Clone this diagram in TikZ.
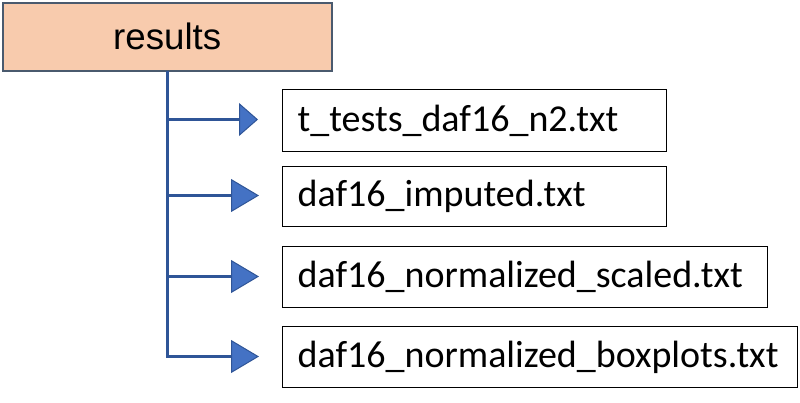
\documentclass[tikz,border=0pt]{standalone}
\usepackage{fontspec}
\setmainfont{Carlito}
\newfontfamily\arialfont{Liberation Sans}
\usetikzlibrary{arrows.meta}
\definecolor{peach}{HTML}{F8CBAD}
\definecolor{slateborder}{HTML}{4A5A6E}
\definecolor{linkblue}{HTML}{2F5597}
\definecolor{tipblue}{HTML}{4472C4}
\begin{document}
\begin{tikzpicture}[x=1pt,y=-1pt,
  rootbox/.style={draw=slateborder, line width=1.5pt, fill=peach, anchor=north west,
    minimum width=329pt, minimum height=68pt, inner sep=0pt,
    font=\arialfont\fontsize{36.7}{40}\selectfont},
  filebox/.style={draw=black, line width=1.3pt, anchor=north west, inner xsep=15pt,
    inner ysep=0pt, align=left, font=\fontsize{38}{41}\selectfont},
  link/.style={draw=linkblue, line width=3pt},
  branch/.style={link, -{Triangle[length=#1, width=33pt, line width=1pt, fill=tipblue]}},
  branch/.default=28pt
]
\useasboundingbox (0,0) rectangle (800,402);

\node[rootbox] (root) at (2,2) {results};

\node[filebox, text width=354pt, minimum height=62pt] (f1) at (282,89) {t\_tests\_daf16\_n2.txt};
\node[filebox, text width=354pt, minimum height=60pt] (f2) at (282,166) {daf16\_imputed.txt};
\node[filebox, text width=455pt, minimum height=61pt] (f3) at (282,246) {daf16\_normalized\_scaled.txt};
\node[filebox, text width=485pt, minimum height=61pt] (f4) at (282,326) {daf16\_normalized\_boxplots.txt};

\coordinate (top) at (167,70.5);
\coordinate (b1) at (167,119.5);
\coordinate (b2) at (167,195.5);
\coordinate (b3) at (167,276.5);
\coordinate (b4) at (167,356.5);
\coordinate (t1) at (258,119.5);
\coordinate (t2) at (259,195.5);
\coordinate (t3) at (259,276.5);
\coordinate (t4) at (259,356.5);

\draw[link] (top) -- ([yshift=-1.5pt]b4);
\draw[branch=19pt] (b1) -- (t1);
\draw[branch] (b2) -- (t2);
\draw[branch] (b3) -- (t3);
\draw[branch] (b4) -- (t4);
\end{tikzpicture}
\end{document}
